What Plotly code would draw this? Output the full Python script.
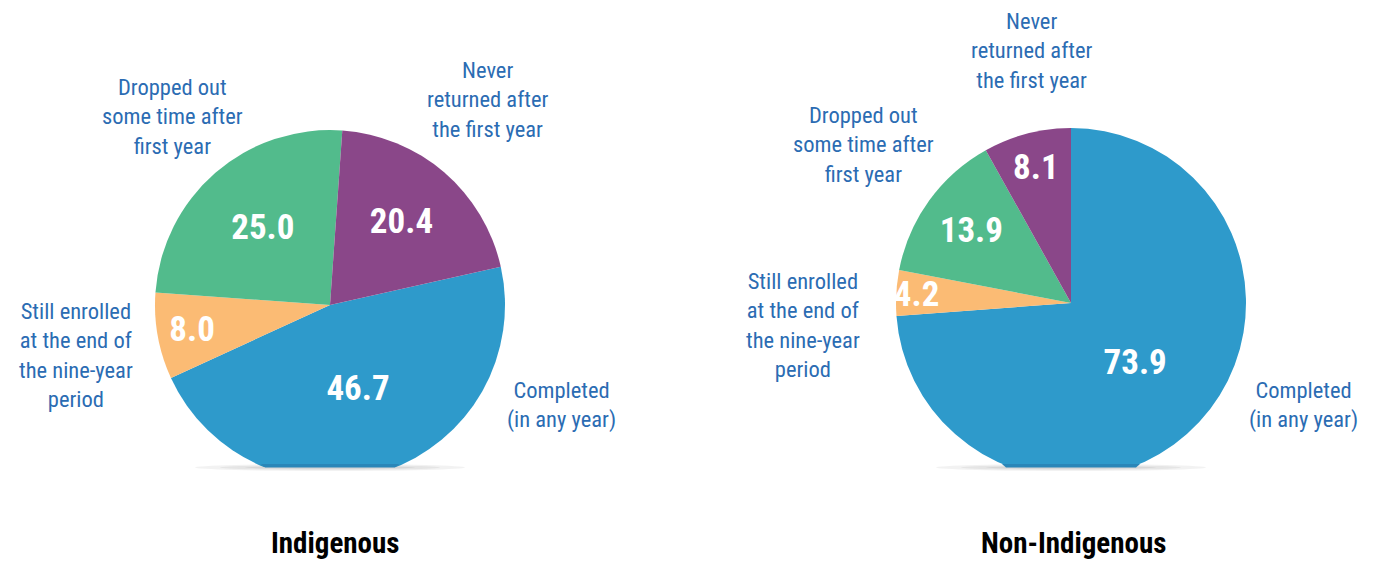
import plotly.graph_objects as go

categories = ["Completed (in any year)", "Still enrolled at the end of the nine-year period",
              "Dropped out some time after first year", "Never returned after the first year"]
outside_labels = ["Completed<br>(in any year)", "Still enrolled<br>at the end of<br>the nine-year<br>period",
                  "Dropped out<br>some time after<br>first year", "Never<br>returned after<br>the first year"]
indigenous = [46.7, 8.0, 25.0, 20.4]
non_indigenous = [73.9, 4.2, 13.9, 8.1]
group_titles = ["Indigenous", "Non-Indigenous"]
colors = ["#2e9acb", "#fbbb74", "#52bb8c", "#8a4789"]

W, H = 1378, 562
LBL = "#2b6cb3"
NARROW = "Liberation Sans Narrow, Roboto Condensed, DejaVu Sans Condensed, Roboto, sans-serif"

def dom(cx, cy, r):
    return dict(x=[(cx - r) / W, (cx + r) / W], y=[1 - (cy + r) / H, 1 - (cy - r) / H])

fig = go.Figure()
fig.add_trace(go.Pie(values=indigenous, labels=categories, marker=dict(colors=colors),
                     sort=False, direction="clockwise", rotation=77.4,
                     domain=dom(330, 305, 175), texttemplate="%{value:.1f}",
                     textposition="inside", insidetextorientation="horizontal",
                     textfont=dict(family=NARROW, size=35, color="white", weight="bold"),
                     hoverinfo="label+value", showlegend=False))
fig.add_trace(go.Pie(values=non_indigenous, labels=categories, marker=dict(colors=colors),
                     sort=False, direction="clockwise", rotation=0,
                     domain=dom(1071, 303, 175), texttemplate="%{value:.1f}",
                     textposition="inside", insidetextorientation="horizontal",
                     textfont=dict(family=NARROW, size=35, color="white", weight="bold"),
                     hoverinfo="label+value", showlegend=False))

# label positions (pixels) for outside category labels
pos_ind = [(561, 405), (76, 355), (172, 116), (487, 100)]
pos_non = [(1303, 405), (803, 325), (863, 144), (1031, 51)]

shapes = []
for cx in (330, 1071):
    # clip bottom of pie
    shapes.append(dict(type="rect", xref="paper", yref="paper", layer="above",
                       x0=(cx - 200) / W, x1=(cx + 200) / W, y0=0, y1=1 - 467 / H,
                       fillcolor="white", line=dict(width=0)))
    # soft shadow
    for k, a in [(0, 0.05), (1, 0.05), (2, 0.06)]:
        shapes.append(dict(type="circle", xref="paper", yref="paper", layer="above",
                           x0=(cx - 135 + 25 * k) / W, x1=(cx + 135 - 25 * k) / W,
                           y0=1 - (471 - k) / H, y1=1 - (464 + k) / H,
                           fillcolor="rgba(0,0,0,%s)" % a, line=dict(width=0)))
    shapes.append(dict(type="path", xref="paper", yref="paper", layer="above",
                       path="M %f,%f L %f,%f L %f,%f L %f,%f Z" % (
                           (cx - 69) / W, 1 - 464 / H, (cx + 69) / W, 1 - 464 / H,
                           (cx + 65) / W, 1 - 467.5 / H, (cx - 65) / W, 1 - 467.5 / H),
                       fillcolor="#2a86b8", line=dict(width=0)))

annotations = []
for positions in (pos_ind, pos_non):
    for (x, y), t in zip(positions, outside_labels):
        annotations.append(dict(x=x / W, y=1 - y / H, xref="paper", yref="paper",
                                text=t, showarrow=False, xanchor="center", yanchor="middle",
                                align="center",
                                font=dict(family=NARROW, size=22.5, color=LBL)))
for x, t in zip((335, 1073), group_titles):
    annotations.append(dict(x=x / W, y=0, xref="paper", yref="paper", text=t,
                            showarrow=False, xanchor="center", yanchor="bottom",
                            font=dict(family=NARROW, size=29, color="black", weight="bold")))

fig.update_layout(width=W, height=H, margin=dict(l=0, r=0, t=0, b=0),
                  paper_bgcolor="white", plot_bgcolor="white",
                  shapes=shapes, annotations=annotations,
                  uniformtext=dict(mode="show", minsize=35))
fig.write_html("out.html", config={"displayModeBar": False},
               post_script="document.body.style.margin='0';document.body.style.overflow='hidden';")
